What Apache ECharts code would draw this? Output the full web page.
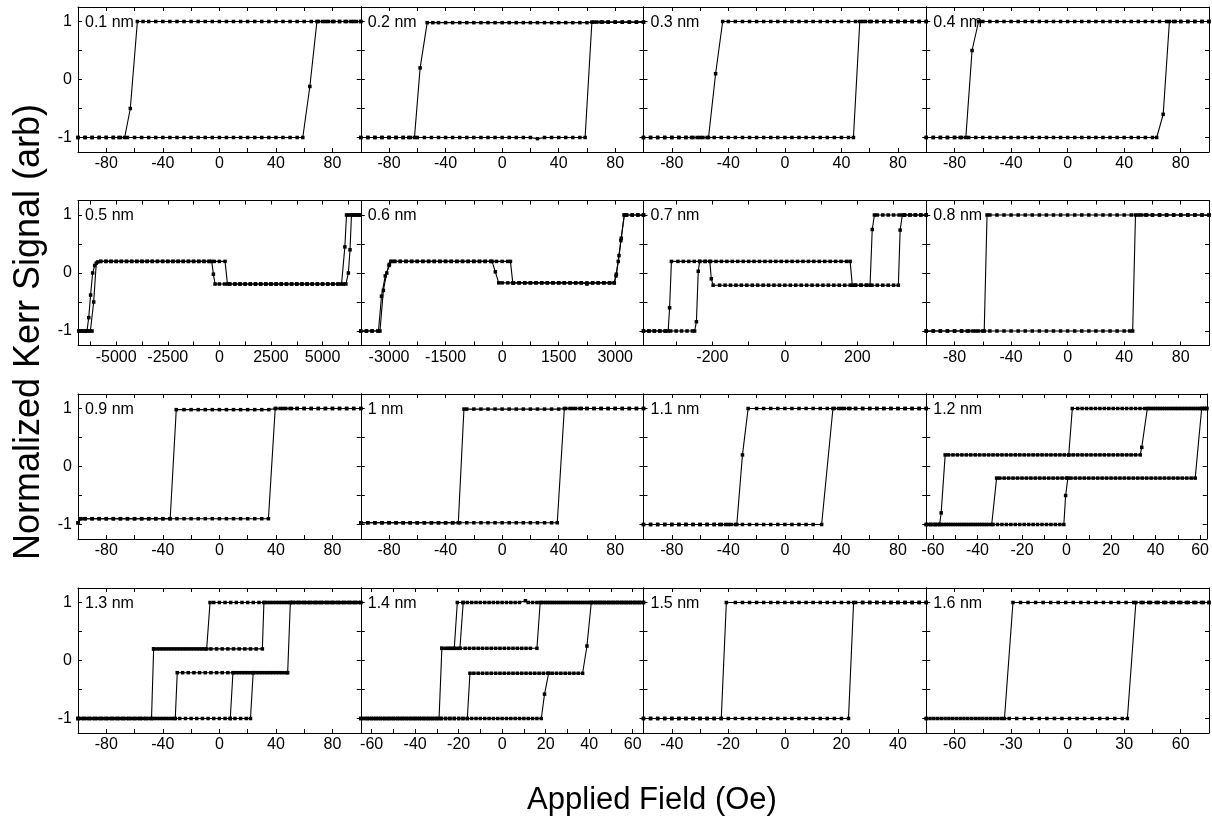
<!DOCTYPE html>
<html><head><meta charset="utf-8">
<script src="https://cdn.jsdelivr.net/npm/echarts@6/dist/echarts.min.js"></script>
<style>html,body{margin:0;padding:0;background:#fff}#c{width:1212px;height:818px}</style>
</head><body><div id="c"></div>
<script>
// ---------------- DATA ----------------
const panelNames = ['0.1 nm','0.2 nm','0.3 nm','0.4 nm','0.5 nm','0.6 nm','0.7 nm','0.8 nm','0.9 nm','1 nm','1.1 nm','1.2 nm','1.3 nm','1.4 nm','1.5 nm','1.6 nm'];
const xLimits = [100,100,100,100,6850,3750,390,100,100,100,100,63,100,65,50,75];

const ticks100 = [-80,-60,-40,-20,0,20,40,60,80];
const labels100 = [-80,-40,0,40,80];
const ticks05 = [-6250,-5000,-3750,-2500,-1250,0,1250,2500,3750,5000,6250];
const labels05 = [-5000,-2500,0,2500,5000];
const ticks06 = [-3000,-2250,-1500,-750,0,750,1500,2250,3000];
const labels06 = [-3000,-1500,0,1500,3000];
const ticks07 = [-300,-200,-100,0,100,200,300];
const labels07 = [-200,0,200];
const ticks65 = [-60,-50,-40,-30,-20,-10,0,10,20,30,40,50,60];
const labels65 = [-60,-40,-20,0,20,40,60];
const ticks15 = [-40,-30,-20,-10,0,10,20,30,40];
const labels15 = [-40,-20,0,20,40];
const ticks16 = [-60,-45,-30,-15,0,15,30,45,60];
const labels16 = [-60,-30,0,30,60];
const yTicks = [-1,-0.5,0,0.5,1];
const yLabels = [-1,0,1];

const loop01_down = [[100,1],[95,1],[90,1],[85,1],[80,1],[75,1],[70,1],[65,1],[60,1],[55,1],[50,1],[45,1],[40,1],[35,1],[30,1],[25,1],[20,1],[15,1],[10,1],[5,1],[0,1],[-5,1],[-10,1],[-15,1],[-20,1],[-25,1],[-30,1],[-35,1],[-40,1],[-45,1],[-50,1],[-54,1],[-58,1],[-63,-0.5],[-67,-1],[-71,-1],[-75,-1],[-80,-1],[-85,-1],[-90,-1],[-95,-1],[-100,-1]];
const loop01_up = [[-100,-1],[-95,-1],[-90,-1],[-85,-1],[-80,-1],[-75,-1],[-70,-1],[-65,-1],[-60,-1],[-55,-1],[-50,-1],[-45,-1],[-40,-1],[-35,-1],[-30,-1],[-25,-1],[-20,-1],[-15,-1],[-10,-1],[-5,-1],[0,-1],[5,-1],[10,-1],[15,-1],[20,-1],[25,-1],[30,-1],[35,-1],[40,-1],[45,-1],[50,-1],[55,-1],[59,-1],[64,-0.12],[69,1],[73,1],[77,1],[81,1],[85,1],[89,1],[93,1],[97,1],[100,1]];

const loop02_down = [[100,0.99],[95,0.99],[90,0.99],[85,0.99],[80,0.99],[75,0.99],[70,0.99],[65,0.99],[60,0.98],[55,0.98],[50,0.98],[45,0.98],[40,0.98],[35,0.98],[30,0.98],[25,0.98],[20,0.98],[15,0.98],[10,0.98],[5,0.98],[0,0.98],[-5,0.98],[-10,0.98],[-15,0.98],[-20,0.98],[-25,0.98],[-30,0.98],[-35,0.98],[-40,0.98],[-45,0.98],[-49,0.98],[-53,0.98],[-58,0.2],[-62,-1],[-66,-1],[-70,-1],[-75,-1],[-80,-1],[-85,-1],[-90,-1],[-95,-1],[-100,-1]];
const loop02_up = [[-100,-1],[-95,-1],[-90,-1],[-85,-1],[-80,-1],[-75,-1],[-70,-1],[-65,-1],[-60,-1],[-55,-1],[-50,-1],[-45,-1],[-40,-1],[-35,-1],[-30,-1],[-25,-1],[-20,-1],[-15,-1],[-10,-1],[-5,-1],[0,-1],[5,-1],[10,-1],[15,-1],[20,-1],[25,-1.02],[30,-1],[35,-1],[40,-1],[45,-1],[50,-1],[55,-1],[58.7,-1],[63.5,0.99],[67,0.99],[71,0.99],[75,0.99],[80,0.99],[85,0.99],[90,0.99],[95,0.99],[100,0.99]];

const loop03_down = [[100,1],[95,1],[90,1],[85,1],[80,1],[75,1],[70,1],[65,1],[60,1],[55,1],[50,1],[45,1],[40,1],[35,1],[30,1],[25,1],[20,1],[15,1],[10,1],[5,1],[0,1],[-5,1],[-10,1],[-15,1],[-20,1],[-25,1],[-30,1],[-35,1],[-40,1],[-44,1],[-49,0.1],[-54,-1],[-58,-1],[-62,-1],[-66,-1],[-70,-1],[-75,-1],[-80,-1],[-85,-1],[-90,-1],[-95,-1],[-100,-1]];
const loop03_up = [[-100,-1],[-95,-1],[-90,-1],[-85,-1],[-80,-1],[-75,-1],[-70,-1],[-65,-1],[-60,-1],[-55,-1],[-50,-1],[-45,-1],[-40,-1],[-35,-1],[-30,-1],[-25,-1],[-20,-1],[-15,-1],[-10,-1],[-5,-1],[0,-1],[5,-1],[10,-1],[15,-1],[20,-1],[25,-1],[30,-1],[35,-1],[40,-1],[45,-1],[48.5,-1],[53,1],[57,1],[61,1],[65,1],[70,1],[75,1],[80,1],[85,1],[90,1],[95,1],[100,1]];

const loop04_down = [[100,1],[95,1],[90,1],[85,1],[80,1],[75,1],[70,1],[65,1],[60,1],[55,1],[50,1],[45,1],[40,1],[35,1],[30,1],[25,1],[20,1],[15,1],[10,1],[5,1],[0,1],[-5,1],[-10,1],[-15,1],[-20,1],[-25,1],[-30,1],[-35,1],[-40,1],[-45,1],[-50,1],[-55,1],[-60,1],[-63,1],[-67.6,0.5],[-72,-1],[-76,-1],[-80,-1],[-85,-1],[-90,-1],[-95,-1],[-100,-1]];
const loop04_up = [[-100,-1],[-95,-1],[-90,-1],[-85,-1],[-80,-1],[-75,-1],[-70,-1],[-65,-1],[-60,-1],[-55,-1],[-50,-1],[-45,-1],[-40,-1],[-35,-1],[-30,-1],[-25,-1],[-20,-1],[-15,-1],[-10,-1],[-5,-1],[0,-1],[5,-1],[10,-1],[15,-1],[20,-1],[25,-1],[30,-1],[35,-1],[40,-1],[45,-1],[50,-1],[55,-1],[60,-1],[63,-1],[67.6,-0.6],[72,1],[76,1],[80,1],[85,1],[90,1],[95,1],[100,1]];

const loop05_down = [[6800,1],[6650,1],[6500,1],[6400,1],[6330,0.4],[6250,0],[6130,-0.19],[6000,-0.19],[5750,-0.19],[5500,-0.19],[5250,-0.19],[5000,-0.19],[4750,-0.19],[4500,-0.19],[4250,-0.19],[4000,-0.19],[3750,-0.19],[3500,-0.19],[3250,-0.19],[3000,-0.19],[2750,-0.19],[2500,-0.19],[2250,-0.19],[2000,-0.19],[1750,-0.19],[1500,-0.19],[1250,-0.19],[1000,-0.19],[750,-0.19],[500,-0.19],[250,-0.19],[0,-0.19],[-210,-0.19],[-290,-0.02],[-370,0.2],[-500,0.2],[-750,0.2],[-1000,0.2],[-1250,0.2],[-1500,0.2],[-1750,0.2],[-2000,0.2],[-2250,0.2],[-2500,0.2],[-2750,0.2],[-3000,0.2],[-3250,0.2],[-3500,0.2],[-3750,0.2],[-4000,0.2],[-4250,0.2],[-4500,0.2],[-4750,0.2],[-5000,0.2],[-5250,0.2],[-5500,0.2],[-5750,0.2],[-5900,0.19],[-6040,0.13],[-6140,0],[-6240,-0.38],[-6330,-0.77],[-6415,-1],[-6500,-1],[-6650,-1],[-6800,-1]];
const loop05_up = [[-6800,-1],[-6650,-1],[-6500,-1],[-6350,-1],[-6250,-1],[-6170,-1],[-6090,-0.5],[-5965,0.17],[-5750,0.2],[-5500,0.2],[-5250,0.2],[-5000,0.2],[-4750,0.2],[-4500,0.2],[-4250,0.2],[-4000,0.2],[-3750,0.2],[-3500,0.2],[-3250,0.2],[-3000,0.2],[-2750,0.2],[-2500,0.2],[-2250,0.2],[-2000,0.2],[-1750,0.2],[-1500,0.2],[-1250,0.2],[-1000,0.2],[-750,0.2],[-500,0.2],[-250,0.2],[0,0.2],[275,0.2],[390,-0.19],[500,-0.19],[750,-0.19],[1000,-0.19],[1250,-0.19],[1500,-0.19],[1750,-0.19],[2000,-0.19],[2250,-0.19],[2500,-0.19],[2750,-0.19],[3000,-0.19],[3250,-0.19],[3500,-0.19],[3750,-0.19],[4000,-0.19],[4250,-0.19],[4500,-0.19],[4750,-0.19],[5000,-0.19],[5250,-0.19],[5500,-0.19],[5750,-0.19],[5920,-0.19],[6080,0.45],[6160,1],[6250,1],[6400,1],[6550,1],[6700,1],[6800,1]];

const loop06_down = [[3750,1],[3600,1],[3450,1],[3300,1],[3240,1],[3150,0.56],[3080,0.2],[3020,-0.05],[2975,-0.17],[2850,-0.17],[2700,-0.17],[2550,-0.17],[2400,-0.17],[2250,-0.19],[2100,-0.17],[1950,-0.17],[1800,-0.17],[1650,-0.17],[1500,-0.17],[1350,-0.17],[1200,-0.17],[1050,-0.17],[900,-0.17],[750,-0.17],[600,-0.17],[450,-0.17],[300,-0.17],[150,-0.17],[0,-0.17],[-90,-0.17],[-180,0.02],[-267,0.2],[-300,0.2],[-450,0.2],[-600,0.2],[-750,0.2],[-900,0.2],[-1050,0.2],[-1200,0.2],[-1350,0.2],[-1500,0.2],[-1650,0.2],[-1800,0.2],[-1950,0.2],[-2100,0.2],[-2250,0.2],[-2400,0.2],[-2550,0.2],[-2700,0.2],[-2850,0.2],[-2950,0.2],[-3000,0.13],[-3100,-0.05],[-3200,-0.4],[-3280,-1],[-3450,-1],[-3600,-1],[-3750,-1]];
const loop06_up = [[-3750,-1],[-3600,-1],[-3450,-1],[-3300,-1],[-3240,-1],[-3150,-0.3],[-3060,0],[-2990,0.15],[-2940,0.2],[-2850,0.2],[-2700,0.2],[-2550,0.2],[-2400,0.2],[-2250,0.2],[-2100,0.2],[-1950,0.2],[-1800,0.2],[-1650,0.2],[-1500,0.2],[-1350,0.2],[-1200,0.2],[-1050,0.2],[-900,0.2],[-750,0.2],[-600,0.2],[-450,0.2],[-300,0.2],[-150,0.2],[0,0.2],[150,0.2],[220,0.2],[283,-0.17],[300,-0.17],[450,-0.17],[600,-0.17],[750,-0.17],[900,-0.17],[1050,-0.17],[1200,-0.17],[1350,-0.17],[1500,-0.17],[1650,-0.17],[1800,-0.17],[1950,-0.17],[2100,-0.17],[2250,-0.17],[2400,-0.17],[2550,-0.17],[2700,-0.17],[2850,-0.17],[2975,-0.17],[3030,-0.02],[3100,0.3],[3160,0.6],[3240,1],[3300,1],[3450,1],[3600,1],[3750,1]];

const loop07_down = [[390,1],[375,1],[360,1],[345,1],[330,1],[315,1],[300,1],[285,1],[270,1],[255,1],[247,1],[241,0.75],[235,-0.21],[225,-0.21],[210,-0.21],[195,-0.21],[180,-0.21],[165,-0.21],[150,-0.21],[135,-0.21],[120,-0.21],[105,-0.21],[90,-0.21],[75,-0.21],[60,-0.21],[45,-0.21],[30,-0.21],[15,-0.21],[0,-0.21],[-15,-0.21],[-30,-0.21],[-45,-0.21],[-60,-0.21],[-75,-0.21],[-90,-0.21],[-105,-0.21],[-120,-0.21],[-135,-0.21],[-150,-0.21],[-165,-0.21],[-180,-0.21],[-198,-0.21],[-203,-0.1],[-207,0.2],[-220,0.2],[-235,0.2],[-250,0.2],[-265,0.2],[-280,0.2],[-295,0.2],[-313,0.2],[-318,-0.6],[-322,-1],[-330,-1],[-345,-1],[-360,-1],[-375,-1],[-390,-1]];
const loop07_up = [[-390,-1],[-375,-1],[-360,-1],[-345,-1],[-330,-1],[-315,-1],[-300,-1],[-285,-1],[-270,-1],[-255,-1],[-249,-1],[-244,-0.84],[-239,0.03],[-235,0.2],[-220,0.2],[-205,0.2],[-190,0.2],[-175,0.2],[-160,0.2],[-145,0.2],[-130,0.2],[-115,0.2],[-100,0.2],[-85,0.2],[-70,0.2],[-55,0.2],[-40,0.2],[-25,0.2],[-10,0.2],[5,0.2],[20,0.2],[35,0.2],[50,0.2],[65,0.2],[80,0.2],[95,0.2],[110,0.2],[125,0.2],[140,0.2],[155,0.2],[170,0.2],[180,0.2],[186,-0.21],[195,-0.21],[210,-0.21],[225,-0.21],[240,-0.21],[255,-0.21],[270,-0.21],[285,-0.21],[300,-0.21],[313,-0.21],[318,0.74],[324,1],[330,1],[345,1],[360,1],[375,1],[390,1]];

const loop08_down = [[100,1],[95,1],[90,1],[85,1],[80,1],[75,1],[70,1],[65,1],[60,1],[55,1],[50,1],[45,1],[40,1],[35,1],[30,1],[25,1],[20,1],[15,1],[10,1],[5,1],[0,1],[-5,1],[-10,1],[-15,1],[-20,1],[-25,1],[-30,1],[-35,1],[-40,1],[-45,1],[-50,1],[-55,1],[-57,1],[-59,-1],[-63,-1],[-67,-1],[-71,-1],[-75,-1],[-80,-1],[-85,-1],[-90,-1],[-95,-1],[-100,-1]];
const loop08_up = [[-100,-1],[-95,-1],[-90,-1],[-85,-1],[-80,-1],[-75,-1],[-70,-1],[-65,-1],[-60,-1],[-55,-1],[-50,-1],[-45,-1],[-40,-1],[-35,-1],[-30,-1],[-25,-1],[-20,-1],[-15,-1],[-10,-1],[-5,-1],[0,-1],[5,-1],[10,-1],[15,-1],[20,-1],[25,-1],[30,-1],[35,-1],[40,-1],[44,-1],[46,-1],[48,1],[52,1],[56,1],[60,1],[65,1],[70,1],[75,1],[80,1],[85,1],[90,1],[95,1],[100,1]];

const loop09_down = [[100,1],[95,1],[90,1],[85,1],[80,1],[75,1],[70,1],[65,1],[60,1],[55,1],[50,1],[45,1],[40,1],[35,0.98],[30,0.98],[25,0.98],[20,0.98],[15,0.98],[10,0.98],[5,0.98],[0,0.98],[-5,0.98],[-10,0.98],[-15,0.98],[-20,0.98],[-25,0.98],[-30.5,0.98],[-34.8,-0.9],[-40,-0.9],[-45,-0.9],[-50,-0.9],[-55,-0.9],[-60,-0.9],[-65,-0.9],[-70,-0.9],[-75,-0.9],[-80,-0.9],[-85,-0.9],[-90,-0.9],[-95,-0.9],[-98,-0.9],[-100,-0.97]];
const loop09_up = [[-100,-0.97],[-98,-0.9],[-95,-0.9],[-90,-0.9],[-85,-0.9],[-80,-0.9],[-75,-0.9],[-70,-0.9],[-65,-0.9],[-60,-0.9],[-55,-0.9],[-50,-0.9],[-45,-0.9],[-40,-0.9],[-35,-0.9],[-30,-0.9],[-25,-0.9],[-20,-0.9],[-15,-0.9],[-10,-0.9],[-5,-0.9],[0,-0.9],[5,-0.9],[10,-0.9],[15,-0.9],[20,-0.9],[25,-0.9],[30,-0.9],[34.7,-0.9],[39.5,1],[43,1],[47,1],[51,1],[55,1],[60,1],[65,1],[70,1],[75,1],[80,1],[85,1],[90,1],[95,1],[100,1]];

const loop10_down = [[100,1],[95,1],[90,1],[85,1],[80,1],[75,1],[70,1],[65,1],[60,1],[55,1],[50,1],[45,1],[40,0.99],[35,0.99],[30,0.99],[25,0.99],[20,0.99],[15,0.99],[10,0.99],[5,0.99],[0,0.99],[-5,0.99],[-10,0.99],[-15,0.99],[-20,0.99],[-25,0.99],[-27,0.99],[-31,-0.97],[-35,-0.97],[-40,-0.97],[-45,-0.97],[-50,-0.97],[-55,-0.97],[-60,-0.97],[-65,-0.97],[-70,-0.97],[-75,-0.97],[-80,-0.97],[-85,-0.97],[-90,-0.97],[-95,-0.97],[-100,-0.97]];
const loop10_up = [[-100,-0.97],[-95,-0.97],[-90,-0.97],[-85,-0.97],[-80,-0.97],[-75,-0.97],[-70,-0.97],[-65,-0.97],[-60,-0.97],[-55,-0.97],[-50,-0.97],[-45,-0.97],[-40,-0.97],[-35,-0.97],[-30,-0.97],[-25,-0.97],[-20,-0.97],[-15,-0.97],[-10,-0.97],[-5,-0.97],[0,-0.97],[5,-0.97],[10,-0.97],[15,-0.97],[20,-0.97],[25,-0.97],[30,-0.97],[35,-0.97],[39,-0.97],[44,1],[48,1],[52,1],[56,1],[60,1],[65,1],[70,1],[75,1],[80,1],[85,1],[90,1],[95,1],[100,1]];

const loop11_down = [[100,1],[95,1],[90,1],[85,1],[80,1],[75,1],[70,1],[65,1],[60,1],[55,1],[50,1],[45,1],[40,1],[35,1],[30,1],[25,1],[20,1],[15,1],[10,1],[5,1],[0,1],[-5,1],[-10,1],[-15,1],[-20,1],[-26,1],[-30,0.2],[-34,-1],[-38,-1],[-42,-1],[-46,-1],[-50,-1],[-55,-1],[-60,-1],[-65,-1],[-70,-1],[-75,-1],[-80,-1],[-85,-1],[-90,-1],[-95,-1],[-100,-1]];
const loop11_up = [[-100,-1],[-95,-1],[-90,-1],[-85,-1],[-80,-1],[-75,-1],[-70,-1],[-65,-1],[-60,-1],[-55,-1],[-50,-1],[-45,-1],[-40,-1],[-35,-1],[-30,-1],[-25,-1],[-20,-1],[-15,-1],[-10,-1],[-5,-1],[0,-1],[5,-1],[10,-1],[15,-1],[20,-1],[26,-1],[34,1],[38,1],[42,1],[46,1],[50,1],[55,1],[60,1],[65,1],[70,1],[75,1],[80,1],[85,1],[90,1],[95,1],[100,1]];

const loop12_a = [[63,1],[61,1],[59,1],[57,1],[55,1],[53,1],[51,1],[49,1],[47,1],[45,1],[43,1],[41,1],[39,1],[37,1],[35,1],[33,1],[31,1],[29,1],[27,1],[25,1],[23,1],[21,1],[19,1],[17,1],[15,1],[13,1],[11,1],[9,1],[7,1],[5,1],[2.6,1],[1,0.2],[-1,0.2],[-3,0.2],[-5,0.2],[-7,0.2],[-9,0.2],[-11,0.2],[-13,0.2],[-15,0.2],[-17,0.2],[-19,0.2],[-21,0.2],[-23,0.2],[-25,0.2],[-27,0.2],[-29,0.2],[-31,0.2],[-33,0.2],[-35,0.2],[-37,0.2],[-39,0.2],[-41,0.2],[-43,0.2],[-45,0.2],[-47,0.2],[-49,0.2],[-51,0.2],[-53,0.2],[-54.5,0.2],[-56.3,-0.8],[-57,-1],[-59,-1],[-61,-1],[-63,-1]];
const loop12_b = [[-63,-1],[-61,-1],[-59,-1],[-57,-1],[-55,-1],[-53,-1],[-51,-1],[-49,-1],[-47,-1],[-45,-1],[-43,-1],[-41,-1],[-39,-1],[-37,-1],[-35,-1],[-33,-1],[-31,-1],[-29,-1],[-27,-1],[-25,-1],[-23,-1],[-21,-1],[-19,-1],[-17,-1],[-15,-1],[-13,-1],[-11,-1],[-9,-1],[-7,-1],[-5,-1],[-3,-1],[-1.2,-1],[-0.4,-0.5],[0.6,-0.2],[2,-0.2],[4,-0.2],[6,-0.2],[8,-0.2],[10,-0.2],[12,-0.2],[14,-0.2],[16,-0.2],[18,-0.2],[20,-0.2],[22,-0.2],[24,-0.2],[26,-0.2],[28,-0.2],[30,-0.2],[32,-0.2],[34,-0.2],[36,-0.2],[38,-0.2],[40,-0.2],[42,-0.2],[44,-0.2],[46,-0.2],[48,-0.2],[50,-0.2],[52,-0.2],[54,-0.2],[56,-0.2],[57.8,-0.2],[60.7,1],[62,1],[63,1]];
const loop12_c = [[1,0.2],[3,0.2],[5,0.2],[7,0.2],[9,0.2],[11,0.2],[13,0.2],[15,0.2],[17,0.2],[19,0.2],[21,0.2],[23,0.2],[25,0.2],[27,0.2],[29,0.2],[31,0.2],[33.1,0.2],[33.8,0.33],[36.3,1],[38,1],[40,1],[42,1],[44,1],[46,1],[48,1],[50,1],[52,1],[54,1],[56,1],[58,1],[60,1],[62,1]];
const loop12_d = [[0,-0.2],[-2,-0.2],[-4,-0.2],[-6,-0.2],[-8,-0.2],[-10,-0.2],[-12,-0.2],[-14,-0.2],[-16,-0.2],[-18,-0.2],[-20,-0.2],[-22,-0.2],[-24,-0.2],[-26,-0.2],[-28,-0.2],[-30,-0.2],[-31.4,-0.2],[-33.6,-1],[-36,-1],[-38,-1],[-40,-1],[-42,-1],[-44,-1],[-46,-1],[-48,-1],[-50,-1],[-52,-1],[-54,-1],[-56,-1],[-58,-1],[-60,-1],[-62,-1]];

const loop13_a = [[-100,-1],[-96,-1],[-92,-1],[-88,-1],[-84,-1],[-80,-1],[-76,-1],[-72,-1],[-68,-1],[-64,-1],[-60,-1],[-56,-1],[-52,-1],[-48,-1],[-46.5,0.2],[-44,0.2],[-40,0.2],[-36,0.2],[-32,0.2],[-28,0.2],[-24,0.2],[-20,0.2],[-16,0.2],[-12,0.2],[-9,0.2],[-6.6,1],[-4,1],[0,1],[4,1],[8,1],[12,1],[16,1],[20,1],[24,1],[28,1],[32,1],[36,1],[40,1],[44,1],[48,1],[52,1],[56,1],[60,1],[64,1],[68,1],[72,1],[76,1],[80,1],[84,1],[88,1],[92,1],[96,1],[100,1]];
const loop13_b = [[-46.5,0.2],[-42,0.2],[-38,0.2],[-34,0.2],[-30,0.2],[-26,0.2],[-22,0.2],[-18,0.2],[-14,0.2],[-10,0.2],[-6,0.2],[-2,0.2],[2,0.2],[6,0.2],[10,0.2],[14,0.2],[18,0.2],[22,0.2],[26,0.2],[30.4,0.2],[31.5,1],[34,1],[38,1],[42,1],[46,1],[50,1],[54,1],[58,1],[62,1],[66,1],[70,1],[74,1],[78,1],[82,1],[86,1],[90,1],[94,1],[98,1]];
const loop13_c = [[-100,-1],[-98,-1],[-94,-1],[-90,-1],[-86,-1],[-82,-1],[-78,-1],[-74,-1],[-70,-1],[-66,-1],[-62,-1],[-58,-1],[-54,-1],[-50,-1],[-46,-1],[-42,-1],[-38,-1],[-34,-1],[-31.2,-1],[-29.8,-0.21],[-26,-0.21],[-22,-0.21],[-18,-0.21],[-14,-0.21],[-10,-0.21],[-6,-0.21],[-2,-0.21],[2,-0.21],[6,-0.21],[10,-0.21],[14,-0.21],[18,-0.21],[22,-0.21],[26,-0.21],[30,-0.21],[34,-0.21],[38,-0.21],[42,-0.21],[46,-0.21],[48.3,-0.21],[50.2,1],[52,1],[56,1],[60,1],[64,1],[68,1],[72,1],[76,1],[80,1],[84,1],[88,1],[92,1],[96,1],[100,1]];
const loop13_d = [[48,-0.21],[44,-0.21],[40,-0.21],[36,-0.21],[32,-0.21],[28,-0.21],[24,-0.21],[20,-0.21],[16,-0.21],[12,-0.21],[9.6,-0.21],[7.7,-1],[4,-1],[0,-1],[-4,-1],[-8,-1],[-12,-1],[-16,-1],[-20,-1],[-24,-1],[-28,-1],[-32,-1],[-36,-1],[-40,-1],[-44,-1],[-48,-1],[-52,-1],[-56,-1],[-60,-1],[-64,-1],[-68,-1],[-72,-1],[-76,-1],[-80,-1],[-84,-1],[-88,-1],[-92,-1],[-96,-1],[-100,-1]];
const loop13_e = [[23.9,-0.21],[22,-1],[19,-1],[15,-1],[11,-1],[7.7,-1]];

const loop14_a = [[-65,-1],[-63,-1],[-61,-1],[-59,-1],[-57,-1],[-55,-1],[-53,-1],[-51,-1],[-49,-1],[-47,-1],[-45,-1],[-43,-1],[-41,-1],[-39,-1],[-37,-1],[-35,-1],[-33,-1],[-31,-1],[-29,-1],[-27.7,0.21],[-26,0.21],[-24,0.21],[-22,0.21],[-20.6,1],[-18,1],[-16,1],[-14,1],[-12,1],[-10,1],[-8,1],[-6,1],[-4,1],[-2,1],[0,1],[2,1],[4,1],[6,1],[8,1],[10.7,1.03],[12,1],[14,1],[16,1],[18,1],[20,1],[22,1],[24,1],[26,1],[28,1],[30,1],[32,1],[34,1],[36,1],[38,1],[40,1],[42,1],[44,1],[46,1],[48,1],[50,1],[52,1],[54,1],[56,1],[58,1],[60,1],[62,1],[64,1],[65,1]];
const loop14_b = [[-27.7,0.21],[-25,0.21],[-23,0.21],[-21,0.21],[-19.4,0.21],[-17,0.21],[-15,0.21],[-13,0.21],[-11,0.21],[-9,0.21],[-7,0.21],[-5,0.21],[-3,0.21],[-1,0.21],[1,0.21],[3,0.21],[5,0.21],[7,0.21],[9,0.21],[11,0.21],[13,0.21],[16,0.21],[17.5,1],[19,1],[21,1],[23,1],[25,1],[27,1],[29,1],[31,1],[33,1],[35,1],[37,1],[39,1],[41,1],[43,1],[45,1],[47,1],[49,1],[51,1],[53,1],[55,1],[57,1],[59,1],[61,1],[63,1]];
const loop14_c = [[-19.4,0.21],[-17.9,1]];
const loop14_d = [[-65,-1],[-62,-1],[-60,-1],[-58,-1],[-56,-1],[-54,-1],[-52,-1],[-50,-1],[-48,-1],[-46,-1],[-44,-1],[-42,-1],[-40,-1],[-38,-1],[-36,-1],[-34,-1],[-32,-1],[-30,-1],[-28,-1],[-26,-1],[-24,-1],[-22,-1],[-20,-1],[-18,-1],[-16,-1],[-14.8,-0.22],[-13,-0.22],[-11,-0.22],[-9,-0.22],[-7,-0.22],[-5,-0.22],[-3,-0.22],[-1,-0.22],[1,-0.22],[3,-0.22],[5,-0.22],[7,-0.22],[9,-0.22],[11,-0.22],[13,-0.22],[15,-0.22],[17,-0.22],[19,-0.22],[21,-0.22],[23,-0.22],[25,-0.22],[27,-0.22],[29,-0.22],[31,-0.22],[33,-0.22],[35,-0.22],[37,-0.22],[39,0.25],[41,1],[43,1],[45,1],[47,1],[49,1],[51,1],[53,1],[55,1],[57,1],[59,1],[61,1],[63,1],[65,1]];
const loop14_e = [[21.4,-0.22],[19.5,-0.58],[18,-1],[16,-1],[14,-1],[12,-1],[10,-1],[8,-1],[6,-1],[4,-1],[2,-1],[0,-1],[-2,-1],[-4,-1],[-6,-1],[-8,-1],[-10,-1],[-12,-1],[-14,-1],[-16,-1],[-18,-1],[-20,-1],[-22,-1],[-24,-1],[-26,-1],[-28,-1],[-30,-1],[-32,-1],[-34,-1],[-36,-1],[-38,-1],[-40,-1],[-42,-1],[-44,-1],[-46,-1],[-48,-1],[-50,-1],[-52,-1],[-54,-1],[-56,-1],[-58,-1],[-60,-1],[-62,-1],[-64,-1]];

const loop15_down = [[50,1],[47.5,1],[45,1],[42.5,1],[40,1],[37.5,1],[35,1],[32.5,1],[30,1],[27.5,1],[25,1],[22.5,1],[20,1],[17.5,1],[15,1],[12.5,1],[10,1],[7.5,1],[5,1],[2.5,1],[0,1],[-2.5,1],[-5,1],[-7.5,1],[-10,1],[-12.5,1],[-15,1],[-17.5,1],[-20.7,1],[-22.5,-1],[-25,-1],[-27.5,-1],[-30,-1],[-32.5,-1],[-35,-1],[-37.5,-1],[-40,-1],[-42.5,-1],[-45,-1],[-47.5,-1],[-50,-1]];
const loop15_up = [[-50,-1],[-47.5,-1],[-45,-1],[-42.5,-1],[-40,-1],[-37.5,-1],[-35,-1],[-32.5,-1],[-30,-1],[-27.5,-1],[-25,-1],[-22.5,-1],[-20,-1],[-17.5,-1],[-15,-1],[-12.5,-1],[-10,-1],[-7.5,-1],[-5,-1],[-2.5,-1],[0,-1],[2.5,-1],[5,-1],[7.5,-1],[10,-1],[12.5,-1],[15,-1],[17.5,-1],[20,-1],[22.5,-1],[24.3,1],[27.5,1],[30,1],[32.5,1],[35,1],[37.5,1],[40,1],[42.5,1],[45,1],[47.5,1],[50,1]];

const loop16_down = [[75,1],[71,1],[67,1],[63,1],[59,1],[55,1],[51,1],[47,1],[43,1],[39,1],[35,1],[31,1],[27,1],[23,1],[19,1],[15,1],[11,1],[7,1],[3,1],[-1,1],[-5,1],[-9,1],[-13,1],[-17,1],[-21,1],[-25,1],[-29,1],[-33.5,-1],[-37,-1],[-41,-1],[-45,-1],[-49,-1],[-53,-1],[-57,-1],[-61,-1],[-65,-1],[-69,-1],[-73,-1],[-75,-1]];
const loop16_up = [[-75,-1],[-71,-1],[-67,-1],[-63,-1],[-59,-1],[-55,-1],[-51,-1],[-47,-1],[-43,-1],[-39,-1],[-35,-1],[-31,-1],[-27,-1],[-23,-1],[-19,-1],[-15,-1],[-11,-1],[-7,-1],[-3,-1],[1,-1],[5,-1],[9,-1],[13,-1],[17,-1],[21,-1],[25,-1],[29,-1],[31.7,-1],[36.2,1],[40,1],[44,1],[48,1],[52,1],[56,1],[60,1],[64,1],[68,1],[72,1],[75,1]];

const panelLoops = [
  [loop01_down, loop01_up], [loop02_down, loop02_up], [loop03_down, loop03_up], [loop04_down, loop04_up],
  [loop05_down, loop05_up], [loop06_down, loop06_up], [loop07_down, loop07_up], [loop08_down, loop08_up],
  [loop09_down, loop09_up], [loop10_down, loop10_up], [loop11_down, loop11_up], [loop12_a, loop12_b, loop12_c, loop12_d],
  [loop13_a, loop13_b, loop13_c, loop13_d, loop13_e], [loop14_a, loop14_b, loop14_c, loop14_d, loop14_e],
  [loop15_down, loop15_up], [loop16_down, loop16_up]
];
const xTicks = [ticks100,ticks100,ticks100,ticks100,ticks05,ticks06,ticks07,ticks100,ticks100,ticks100,ticks100,ticks65,ticks100,ticks65,ticks15,ticks16];
const xLabels = [labels100,labels100,labels100,labels100,labels05,labels06,labels07,labels100,labels100,labels100,labels100,labels65,labels100,labels65,labels15,labels16];

// ---------------- LAYOUT ----------------
const FONT = "'Liberation Sans', Arial, sans-serif";
const colLeft = 78, colW = 282.75;
const rowTops = [7, 200.5, 394, 588];
const rowH = 145;

const grids = [], xAxes = [], yAxes = [], series = [], graphics = [];
const tickStyle = {color:'#000', width:1};
for (let i = 0; i < 16; i++) {
  const r = Math.floor(i / 4), c = i % 4;
  const left = colLeft + c * colW, top = rowTops[r];
  grids.push({left: left, top: top, width: colW, height: rowH, containLabel: false});
  const lim = xLimits[i];
  xAxes.push({
    gridIndex: i, type: 'value', position: 'bottom', min: -lim, max: lim,
    axisLine: {show: true, onZero: false, lineStyle: tickStyle},
    axisTick: {show: true, inside: true, length: 4, customValues: xTicks[i], lineStyle: tickStyle},
    axisLabel: {show: true, customValues: xLabels[i], color: '#000', fontSize: 16, fontFamily: FONT, margin: 4,
      formatter: v => String(v)},
    splitLine: {show: false}
  });
  xAxes.push({
    gridIndex: i, type: 'value', position: 'top', min: -lim, max: lim,
    axisLine: {show: true, onZero: false, lineStyle: tickStyle},
    axisTick: {show: true, inside: true, length: 4, customValues: xTicks[i], lineStyle: tickStyle},
    axisLabel: {show: false}, splitLine: {show: false}
  });
  yAxes.push({
    gridIndex: i, type: 'value', position: 'left', min: -1.25, max: 1.25,
    axisLine: {show: true, onZero: false, lineStyle: tickStyle},
    axisTick: {show: true, inside: true, length: 4, customValues: yTicks, lineStyle: tickStyle},
    axisLabel: {show: c === 0, customValues: yLabels, color: '#000', fontSize: 16, fontFamily: FONT, margin: 6,
      formatter: v => String(v)},
    splitLine: {show: false}
  });
  yAxes.push({
    gridIndex: i, type: 'value', position: 'right', min: -1.25, max: 1.25,
    axisLine: {show: true, onZero: false, lineStyle: tickStyle},
    axisTick: {show: true, inside: true, length: 4, customValues: yTicks, lineStyle: tickStyle},
    axisLabel: {show: false}, splitLine: {show: false}
  });
  panelLoops[i].forEach(loop => {
    series.push({
      type: 'line', xAxisIndex: 2 * i, yAxisIndex: 2 * i, data: loop,
      symbol: 'rect', symbolSize: 3.5, showSymbol: true, showAllSymbol: true,
      lineStyle: {color: '#000', width: 1.1}, itemStyle: {color: '#000'},
      silent: true, animation: false, clip: true, z: 2
    });
  });
  graphics.push({
    type: 'text', x: left + 7, y: top + 15.5, z: 10,
    style: {text: panelNames[i], fill: '#000', fontSize: 16, fontFamily: FONT, verticalAlign: 'middle', align: 'left'}
  });
}
graphics.push({
  type: 'text', x: 29, y: 332, rotation: Math.PI / 2,
  style: {text: 'Normalized Kerr Signal (arb)', fill: '#000', fontSize: 36, fontFamily: FONT, align: 'center', verticalAlign: 'middle'}
});
graphics.push({
  type: 'text', x: 652, y: 800,
  style: {text: 'Applied Field (Oe)', fill: '#000', fontSize: 31, fontFamily: FONT, align: 'center', verticalAlign: 'middle'}
});

const chart = echarts.init(document.getElementById('c'), null, {renderer: 'canvas'});
chart.setOption({
  animation: false,
  backgroundColor: '#fff',
  grid: grids, xAxis: xAxes, yAxis: yAxes, series: series, graphic: graphics
});
</script>
</body></html>
